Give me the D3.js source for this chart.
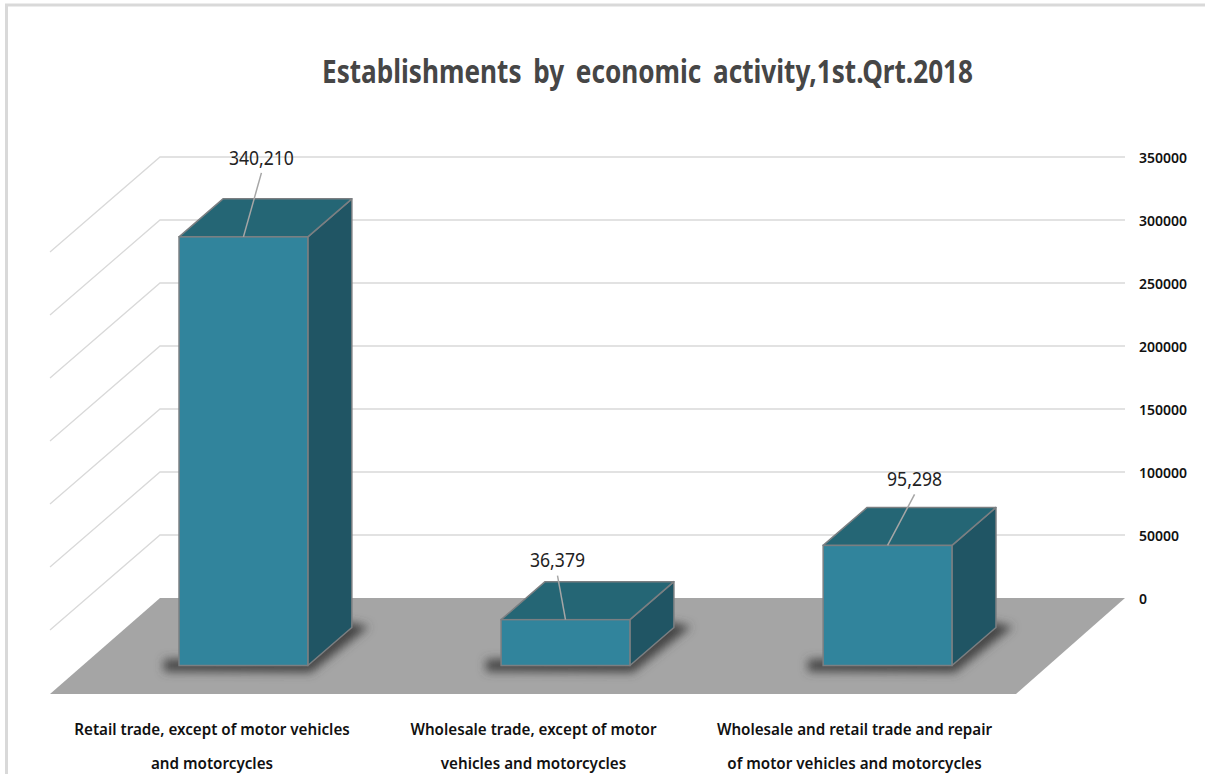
<!DOCTYPE html>
<html><head><meta charset="utf-8">
<script src="https://cdn.jsdelivr.net/npm/d3@7"></script>
<style>html,body{margin:0;padding:0;background:#fff}svg{display:block}</style>
</head><body><div id="c"></div>
<script>
const categories=[["Retail trade, except of motor vehicles","and motorcycles"],["Wholesale trade, except of motor","vehicles and motorcycles"],["Wholesale and retail trade and repair","of motor vehicles and motorcycles"]];
const values=[340210,36379,95298];
const valueLabels=["340,210","36,379","95,298"];
const ticks=[0,50000,100000,150000,200000,250000,300000,350000];
const title="Establishments by economic activity,1st.Qrt.2018";
const W=1205,H=774;
const depth={x:44,y:-38}, floorDepth={x:110,y:-96};
const baseY=665.5;
const svg=d3.select("#c").append("svg").attr("width",W).attr("height",H);
const defs=svg.append("defs");
defs.append("filter").attr("id","blur").attr("x","-20%").attr("y","-40%").attr("width","140%").attr("height","180%")
  .append("feGaussianBlur").attr("stdDeviation",5);
svg.append("rect").attr("x",6.5).attr("y",5).attr("width",1300).attr("height",900).attr("fill","#fff").attr("stroke","#d9d9d9").attr("stroke-width",3);
const yWall=d3.scaleLinear().domain([0,350000]).range([598,157]);
const h=v=>yWall(0)-yWall(v);
const x=d3.scaleBand().domain(d3.range(categories.length)).range([82.4,1048.6]).paddingInner(0.6).paddingOuter(0.3);
const wallL=160,wallR=1125,floorFrontL=50,floorFrontR=1016;
// gridlines
const gGrid=svg.append("g");
gGrid.selectAll("path").data(ticks.slice(1)).join("path")
 .attr("d",d=>`M${wallL-110},${yWall(d)+95}L${wallL},${yWall(d)}L${wallR},${yWall(d)}`)
 .attr("fill","none").attr("stroke","#d9d9d9").attr("stroke-width",1.3);
// floor
svg.append("path").attr("d",`M${wallL},${yWall(0)}L${wallR},${yWall(0)}L${floorFrontR},${yWall(0)-floorDepth.y}L${floorFrontL},${yWall(0)-floorDepth.y}Z`).attr("fill","#a5a5a5");
// shadows
svg.append("g").selectAll("path").data(values).join("path")
 .attr("d",(d,i)=>{const a=x(i)-15,b=x(i)+x.bandwidth();return `M${a},${baseY+6}L${b+3},${baseY+7}L${b+depth.x+17},${baseY+depth.y-1}L${b+depth.x-8},${baseY+depth.y-6}L${b},${baseY-8}L${a},${baseY-6}Z`;})
 .attr("fill","#444").attr("filter","url(#blur)");
// bars
const bars=svg.append("g").selectAll("g").data(values).join("g");
const st="#7b7f82";
bars.append("path").attr("d",(d,i)=>{const r=x(i)+x.bandwidth(),t=baseY-h(d);return `M${r},${t}L${r+depth.x},${t+depth.y}L${r+depth.x},${baseY+depth.y}L${r},${baseY}Z`;})
 .attr("fill","#205564").attr("stroke",st).attr("stroke-width",1.5).attr("stroke-linejoin","round");
bars.append("path").attr("d",(d,i)=>{const l=x(i),r=l+x.bandwidth(),t=baseY-h(d);return `M${l},${t}L${l+depth.x},${t+depth.y}L${r+depth.x},${t+depth.y}L${r},${t}Z`;})
 .attr("fill","#256675").attr("stroke",st).attr("stroke-width",1.5).attr("stroke-linejoin","round");
bars.append("rect").attr("x",(d,i)=>x(i)).attr("y",d=>baseY-h(d)).attr("width",x.bandwidth()).attr("height",d=>h(d))
 .attr("fill","#31849c").attr("stroke",st).attr("stroke-width",1.5);
// leaders
const leaderDx=[18,-8,27], leaderTop=[64,44,51];
bars.append("line").attr("x1",(d,i)=>x(i)+x.bandwidth()/2).attr("y1",d=>baseY-h(d))
 .attr("x2",(d,i)=>x(i)+x.bandwidth()/2+leaderDx[i]).attr("y2",(d,i)=>baseY-h(d)-leaderTop[i])
 .attr("stroke","#a6a6a6").attr("stroke-width",1.5);
const font="'Noto Sans','Open Sans',sans-serif";
const labelDx=[18,-8,27], labelDy=[72,53,59];
bars.append("text").attr("x",(d,i)=>x(i)+x.bandwidth()/2+labelDx[i]).attr("y",(d,i)=>baseY-h(d)-labelDy[i])
 .attr("text-anchor","middle").attr("font-family",font).attr("font-size",19.5).attr("fill","#222")
 .attr("textLength",(d,i)=>i?55:65).attr("lengthAdjust","spacingAndGlyphs").text((d,i)=>valueLabels[i]);
// axis
const axis=d3.axisRight(yWall).tickValues(ticks).tickSize(0).tickPadding(0).tickFormat(d3.format("d"));
const ga=svg.append("g").attr("transform","translate(1139,1)").call(axis);
ga.select(".domain").remove();
ga.selectAll("text").attr("font-family",font).attr("font-size",14).attr("font-weight",600).attr("fill","#111").attr("dy","0.3em");
// category labels
const catX=[212,533.5,854.5], lineY=[735,769];
categories.forEach((c,i)=>c.forEach((t,j)=>{
 svg.append("text").attr("x",catX[i]).attr("y",lineY[j]).attr("text-anchor","middle")
  .attr("font-family",font).attr("font-size",15.2).attr("font-weight",600).attr("fill","#111").text(t);
}));
svg.append("text").attr("x",647.5).attr("y",83).attr("text-anchor","middle").attr("font-family",font)
 .attr("font-size",32).attr("font-weight",700).attr("fill","#464646").attr("word-spacing",6)
 .attr("textLength",651).attr("lengthAdjust","spacingAndGlyphs").text(title);
</script></body></html>
